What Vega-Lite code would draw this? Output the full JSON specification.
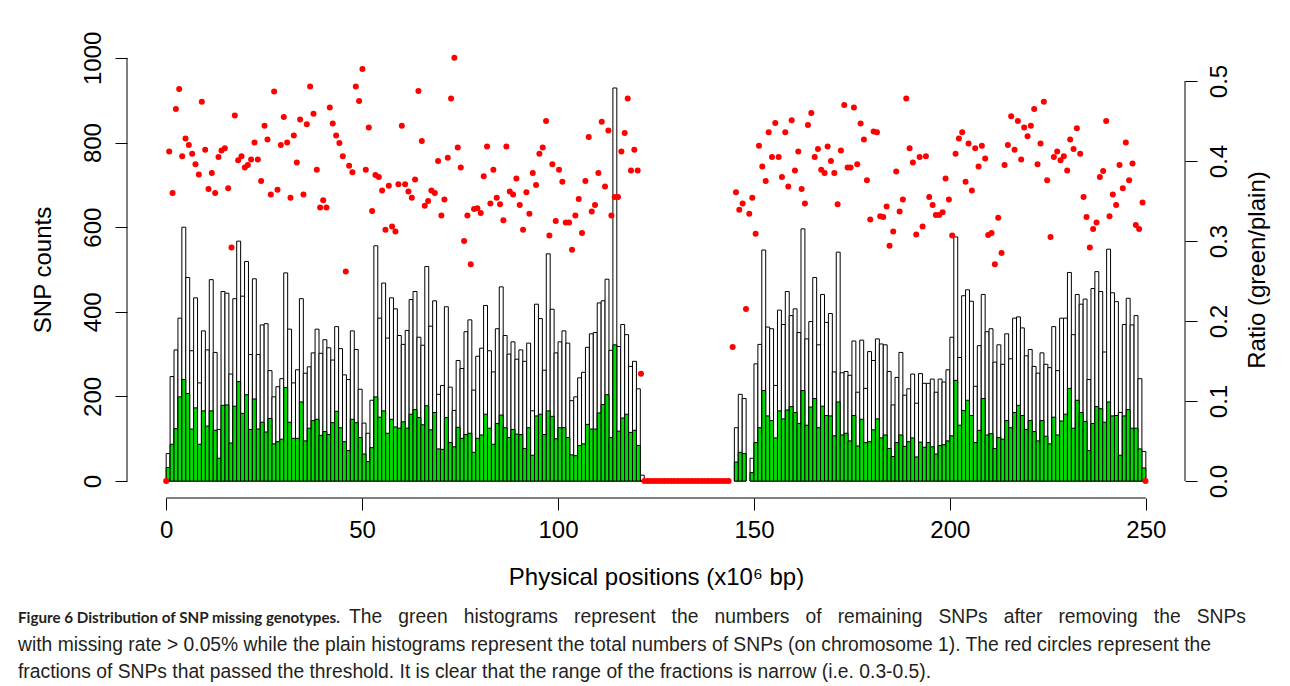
{
"$schema":"https://vega.github.io/schema/vega-lite/v6.json",
"autosize":{"type":"pad"},
"padding":{"left":18,"top":31,"right":5,"bottom":5},
"background":"white",
"bounds":"flush",
"spacing":100,
"config":{"view":{"stroke":null},
 "axis":{"grid":false,"domain":false,"tickColor":"black","tickWidth":1,"tickSize":12,"labelColor":"black","titleColor":"black","labelFont":"Liberation Sans","titleFont":"Liberation Sans","labelFontSize":24,"titleFontSize":24,"titleFontWeight":"normal","labelOverlap":false,"labelFlush":false}},
"title":{"text":["with missing rate > 0.05% while the plain histograms represent the total numbers of SNPs (on chromosome 1). The red circles represent the",
  "fractions of SNPs that passed the threshold. It is clear that the range of the fractions is narrow (i.e. 0.3-0.5)."],
 "orient":"bottom","anchor":"start","frame":"group","dx":-109,"offset":24,"baseline":"alphabetic","lineHeight":26.5,
 "font":"Liberation Sans","fontSize":19.3,"fontWeight":"normal","color":"#231f20"},
"datasets":{
"bars":[
{"start":0,"end":1,"total":65,"green":32},{"start":1,"end":2,"total":247,"green":87},{"start":2,"end":3,"total":310,"green":124},{"start":3,"end":4,"total":385,"green":199},{"start":4,"end":5,"total":600,"green":240},{"start":5,"end":6,"total":481,"green":207},{"start":6,"end":7,"total":308,"green":123},{"start":7,"end":8,"total":433,"green":173},{"start":8,"end":9,"total":232,"green":87},{"start":9,"end":10,"total":355,"green":166},
{"start":10,"end":11,"total":310,"green":130},{"start":11,"end":12,"total":476,"green":166},{"start":12,"end":13,"total":304,"green":120},{"start":13,"end":14,"total":122,"green":54},{"start":14,"end":15,"total":448,"green":179},{"start":15,"end":16,"total":444,"green":180},{"start":16,"end":17,"total":253,"green":90},{"start":17,"end":18,"total":431,"green":177},{"start":18,"end":19,"total":567,"green":235},{"start":19,"end":20,"total":437,"green":160},
{"start":20,"end":21,"total":519,"green":204},{"start":21,"end":22,"total":299,"green":122},{"start":22,"end":23,"total":478,"green":194},{"start":23,"end":24,"total":299,"green":123},{"start":24,"end":25,"total":369,"green":139},{"start":25,"end":26,"total":372,"green":116},{"start":26,"end":27,"total":261,"green":148},{"start":27,"end":28,"total":199,"green":88},{"start":28,"end":29,"total":223,"green":93},{"start":29,"end":30,"total":242,"green":99},
{"start":30,"end":31,"total":492,"green":221},{"start":31,"end":32,"total":359,"green":139},{"start":32,"end":33,"total":232,"green":101},{"start":33,"end":34,"total":263,"green":101},{"start":34,"end":35,"total":431,"green":187},{"start":35,"end":36,"total":255,"green":95},{"start":36,"end":37,"total":270,"green":125},{"start":37,"end":38,"total":303,"green":143},{"start":38,"end":39,"total":359,"green":146},{"start":39,"end":40,"total":302,"green":108},
{"start":40,"end":41,"total":334,"green":117},{"start":41,"end":42,"total":315,"green":110},{"start":42,"end":43,"total":286,"green":138},{"start":43,"end":44,"total":365,"green":165},{"start":44,"end":45,"total":313,"green":126},{"start":45,"end":46,"total":251,"green":93},{"start":46,"end":47,"total":240,"green":72},{"start":47,"end":48,"total":355,"green":146},{"start":48,"end":49,"total":311,"green":138},{"start":49,"end":50,"total":217,"green":103},
{"start":50,"end":51,"total":137,"green":64},{"start":51,"end":52,"total":113,"green":46},{"start":52,"end":53,"total":191,"green":79},{"start":53,"end":54,"total":556,"green":199},{"start":54,"end":55,"total":385,"green":151},{"start":55,"end":56,"total":468,"green":166},{"start":56,"end":57,"total":338,"green":113},{"start":57,"end":58,"total":433,"green":146},{"start":58,"end":59,"total":407,"green":128},{"start":59,"end":60,"total":344,"green":125},
{"start":60,"end":61,"total":323,"green":140},{"start":61,"end":62,"total":356,"green":125},{"start":62,"end":63,"total":429,"green":158},{"start":63,"end":64,"total":448,"green":169},{"start":64,"end":65,"total":340,"green":150},{"start":65,"end":66,"total":321,"green":133},{"start":66,"end":67,"total":507,"green":178},{"start":67,"end":68,"total":366,"green":121},{"start":68,"end":69,"total":426,"green":162},{"start":69,"end":70,"total":205,"green":76},
{"start":70,"end":71,"total":226,"green":75},{"start":71,"end":72,"total":412,"green":150},{"start":72,"end":73,"total":222,"green":91},{"start":73,"end":74,"total":167,"green":81},{"start":74,"end":75,"total":285,"green":127},{"start":75,"end":76,"total":266,"green":101},{"start":76,"end":77,"total":353,"green":110},{"start":77,"end":78,"total":381,"green":113},{"start":78,"end":79,"total":215,"green":68},{"start":79,"end":80,"total":295,"green":101},
{"start":80,"end":81,"total":314,"green":109},{"start":81,"end":82,"total":415,"green":158},{"start":82,"end":83,"total":308,"green":125},{"start":83,"end":84,"total":258,"green":87},{"start":84,"end":85,"total":360,"green":136},{"start":85,"end":86,"total":459,"green":156},{"start":86,"end":87,"total":344,"green":126},{"start":87,"end":88,"total":300,"green":103},{"start":88,"end":89,"total":329,"green":122},{"start":89,"end":90,"total":288,"green":111},
{"start":90,"end":91,"total":310,"green":110},{"start":91,"end":92,"total":283,"green":77},{"start":92,"end":93,"total":326,"green":126},{"start":93,"end":94,"total":166,"green":61},{"start":94,"end":95,"total":418,"green":154},{"start":95,"end":96,"total":384,"green":158},{"start":96,"end":97,"total":262,"green":110},{"start":97,"end":98,"total":537,"green":166},{"start":98,"end":99,"total":406,"green":153},{"start":99,"end":100,"total":303,"green":100},
{"start":100,"end":101,"total":329,"green":126},{"start":101,"end":102,"total":355,"green":126},{"start":102,"end":103,"total":326,"green":103},{"start":103,"end":104,"total":190,"green":62},{"start":104,"end":105,"total":199,"green":60},{"start":105,"end":106,"total":244,"green":84},{"start":106,"end":107,"total":257,"green":88},{"start":107,"end":108,"total":316,"green":134},{"start":108,"end":109,"total":348,"green":123},{"start":109,"end":110,"total":351,"green":123},
{"start":110,"end":111,"total":421,"green":161},{"start":111,"end":112,"total":426,"green":181},{"start":112,"end":113,"total":477,"green":204},{"start":113,"end":114,"total":309,"green":103},{"start":114,"end":115,"total":929,"green":322},{"start":115,"end":116,"total":318,"green":118},{"start":116,"end":117,"total":370,"green":149},{"start":117,"end":118,"total":346,"green":158},{"start":118,"end":119,"total":271,"green":115},{"start":119,"end":120,"total":283,"green":120},
{"start":120,"end":121,"total":218,"green":84},{"start":121,"end":122,"total":14,"green":0},
{"start":145,"end":146,"total":126,"green":45},{"start":146,"end":147,"total":205,"green":68},{"start":147,"end":148,"total":195,"green":65},{"start":149,"end":150,"total":54,"green":20},
{"start":150,"end":151,"total":277,"green":91},{"start":151,"end":152,"total":323,"green":126},{"start":152,"end":153,"total":546,"green":214},{"start":153,"end":154,"total":364,"green":154},{"start":154,"end":155,"total":360,"green":143},{"start":155,"end":156,"total":226,"green":102},{"start":156,"end":157,"total":404,"green":166},{"start":157,"end":158,"total":370,"green":147},{"start":158,"end":159,"total":448,"green":168},{"start":159,"end":160,"total":391,"green":176},
{"start":160,"end":161,"total":407,"green":162},{"start":161,"end":162,"total":351,"green":136},{"start":162,"end":163,"total":596,"green":214},{"start":163,"end":164,"total":336,"green":132},{"start":164,"end":165,"total":377,"green":175},{"start":165,"end":166,"total":481,"green":195},{"start":166,"end":167,"total":322,"green":126},{"start":167,"end":168,"total":441,"green":177},{"start":168,"end":169,"total":375,"green":155},{"start":169,"end":170,"total":396,"green":154},
{"start":170,"end":171,"total":258,"green":107},{"start":171,"end":172,"total":541,"green":187},{"start":172,"end":173,"total":256,"green":109},{"start":173,"end":174,"total":259,"green":113},{"start":174,"end":175,"total":250,"green":95},{"start":175,"end":176,"total":331,"green":155},{"start":176,"end":177,"total":210,"green":83},{"start":177,"end":178,"total":333,"green":146},{"start":178,"end":179,"total":219,"green":91},{"start":179,"end":180,"total":306,"green":93},
{"start":180,"end":181,"total":285,"green":121},{"start":181,"end":182,"total":336,"green":147},{"start":182,"end":183,"total":324,"green":102},{"start":183,"end":184,"total":322,"green":109},{"start":184,"end":185,"total":259,"green":77},{"start":185,"end":186,"total":180,"green":58},{"start":186,"end":187,"total":245,"green":91},{"start":187,"end":188,"total":304,"green":109},{"start":188,"end":189,"total":203,"green":82},{"start":189,"end":190,"total":218,"green":93},
{"start":190,"end":191,"total":253,"green":102},{"start":191,"end":192,"total":184,"green":57},{"start":192,"end":193,"total":254,"green":92},{"start":193,"end":194,"total":231,"green":80},{"start":194,"end":195,"total":231,"green":91},{"start":195,"end":196,"total":241,"green":81},{"start":196,"end":197,"total":210,"green":64},{"start":197,"end":198,"total":241,"green":84},{"start":198,"end":199,"total":234,"green":86},{"start":199,"end":200,"total":263,"green":95},
{"start":200,"end":201,"total":340,"green":107},{"start":201,"end":202,"total":577,"green":238},{"start":202,"end":203,"total":292,"green":132},{"start":203,"end":204,"total":438,"green":167},{"start":204,"end":205,"total":452,"green":191},{"start":205,"end":206,"total":425,"green":155},{"start":206,"end":207,"total":224,"green":91},{"start":207,"end":208,"total":320,"green":120},{"start":208,"end":209,"total":441,"green":195},{"start":209,"end":210,"total":353,"green":109},
{"start":210,"end":211,"total":360,"green":112},{"start":211,"end":212,"total":281,"green":77},{"start":212,"end":213,"total":322,"green":103},{"start":213,"end":214,"total":276,"green":99},{"start":214,"end":215,"total":348,"green":143},{"start":215,"end":216,"total":289,"green":126},{"start":216,"end":217,"total":385,"green":162},{"start":217,"end":218,"total":388,"green":179},{"start":218,"end":219,"total":362,"green":155},{"start":219,"end":220,"total":296,"green":122},
{"start":220,"end":221,"total":311,"green":143},{"start":221,"end":222,"total":271,"green":117},{"start":222,"end":223,"total":255,"green":95},{"start":223,"end":224,"total":303,"green":143},{"start":224,"end":225,"total":276,"green":106},{"start":225,"end":226,"total":268,"green":88},{"start":226,"end":227,"total":365,"green":151},{"start":227,"end":228,"total":261,"green":109},{"start":228,"end":229,"total":385,"green":142},{"start":229,"end":230,"total":385,"green":158},
{"start":230,"end":231,"total":493,"green":219},{"start":231,"end":232,"total":346,"green":125},{"start":232,"end":233,"total":441,"green":191},{"start":233,"end":234,"total":418,"green":162},{"start":234,"end":235,"total":430,"green":141},{"start":235,"end":236,"total":240,"green":72},{"start":236,"end":237,"total":455,"green":136},{"start":237,"end":238,"total":495,"green":176},{"start":238,"end":239,"total":448,"green":171},{"start":239,"end":240,"total":305,"green":139},
{"start":240,"end":241,"total":548,"green":187},{"start":241,"end":242,"total":445,"green":154},{"start":242,"end":243,"total":424,"green":155},{"start":243,"end":244,"total":162,"green":61},{"start":244,"end":245,"total":370,"green":154},{"start":245,"end":246,"total":432,"green":169},{"start":246,"end":247,"total":369,"green":125},{"start":247,"end":248,"total":391,"green":125},{"start":248,"end":249,"total":242,"green":76},{"start":249,"end":250,"total":70,"green":31}
],
"pts":[
{"pos":0,"ratio":0},{"pos":0.77,"ratio":0.412},{"pos":1.62,"ratio":0.36},{"pos":2.47,"ratio":0.465},{"pos":3.32,"ratio":0.49},{"pos":4.08,"ratio":0.406},{"pos":4.93,"ratio":0.428},{"pos":5.78,"ratio":0.42},{"pos":6.63,"ratio":0.409},{"pos":7.48,"ratio":0.396},{"pos":8.33,"ratio":0.383},{"pos":9.1,"ratio":0.474},{"pos":9.95,"ratio":0.414},{"pos":10.8,"ratio":0.365},{"pos":11.65,"ratio":0.385},{"pos":12.5,"ratio":0.36},{"pos":13.35,"ratio":0.405},{"pos":14.12,"ratio":0.413},{"pos":14.97,"ratio":0.416},{"pos":15.82,"ratio":0.366},{"pos":16.67,"ratio":0.292},{"pos":17.52,"ratio":0.457},{"pos":18.37,"ratio":0.401},{"pos":19.22,"ratio":0.406},{"pos":20.07,"ratio":0.392},{"pos":20.84,"ratio":0.395},{"pos":21.68,"ratio":0.402},{"pos":22.54,"ratio":0.423},{"pos":23.39,"ratio":0.402},{"pos":24.23,"ratio":0.375},{"pos":25.09,"ratio":0.444},{"pos":25.85,"ratio":0.427},{"pos":26.7,"ratio":0.358},{"pos":27.55,"ratio":0.487},{"pos":28.4,"ratio":0.364},{"pos":29.25,"ratio":0.42},{"pos":30.02,"ratio":0.455},{"pos":30.87,"ratio":0.423},{"pos":31.72,"ratio":0.354},{"pos":32.57,"ratio":0.432},{"pos":33.33,"ratio":0.398},{"pos":34.18,"ratio":0.452},{"pos":35.03,"ratio":0.358},{"pos":35.88,"ratio":0.446},{"pos":36.73,"ratio":0.493},{"pos":37.59,"ratio":0.459},{"pos":38.44,"ratio":0.389},{"pos":39.29,"ratio":0.342},{"pos":40.06,"ratio":0.351},{"pos":40.9,"ratio":0.342},{"pos":41.75,"ratio":0.467},
{"pos":42.5,"ratio":0.447},{"pos":43.37,"ratio":0.432},{"pos":44.2,"ratio":0.4225},{"pos":45.07,"ratio":0.406},{"pos":45.83,"ratio":0.262},{"pos":46.68,"ratio":0.394},{"pos":47.53,"ratio":0.386},{"pos":48.39,"ratio":0.493},{"pos":49.23,"ratio":0.475},{"pos":50.08,"ratio":0.515},{"pos":50.94,"ratio":0.389},{"pos":51.71,"ratio":0.442},{"pos":52.55,"ratio":0.3375},{"pos":53.4,"ratio":0.3825},{"pos":54.26,"ratio":0.38},{"pos":55.1,"ratio":0.363},{"pos":55.95,"ratio":0.314},{"pos":56.81,"ratio":0.369},{"pos":57.65,"ratio":0.318},{"pos":58.5,"ratio":0.312},{"pos":59.26,"ratio":0.371},{"pos":60.13,"ratio":0.444},{"pos":60.97,"ratio":0.371},{"pos":61.82,"ratio":0.362},{"pos":62.68,"ratio":0.354},{"pos":63.52,"ratio":0.377},{"pos":64.37,"ratio":0.4875},{"pos":65.23,"ratio":0.425},{"pos":65.99,"ratio":0.344},{"pos":66.84,"ratio":0.35},{"pos":67.68,"ratio":0.363},{"pos":68.55,"ratio":0.36},{"pos":69.39,"ratio":0.4},{"pos":70.23,"ratio":0.332},{"pos":71.0,"ratio":0.352},{"pos":71.86,"ratio":0.404},{"pos":72.7,"ratio":0.478},{"pos":73.55,"ratio":0.529},{"pos":74.41,"ratio":0.417},{"pos":75.17,"ratio":0.392},{"pos":76.02,"ratio":0.3},{"pos":76.87,"ratio":0.332},{"pos":77.73,"ratio":0.271},{"pos":78.57,"ratio":0.34},{"pos":79.42,"ratio":0.341},{"pos":80.28,"ratio":0.335},{"pos":81.04,"ratio":0.381},{"pos":81.89,"ratio":0.418},{"pos":82.73,"ratio":0.347},{"pos":83.5,"ratio":0.389},
{"pos":84.35,"ratio":0.354},{"pos":85.2,"ratio":0.346},{"pos":86.05,"ratio":0.326},{"pos":86.82,"ratio":0.418},{"pos":87.68,"ratio":0.362},{"pos":88.52,"ratio":0.358},{"pos":89.37,"ratio":0.378},{"pos":90.23,"ratio":0.345},{"pos":91.07,"ratio":0.314},{"pos":91.92,"ratio":0.361},{"pos":92.69,"ratio":0.334},{"pos":93.55,"ratio":0.385},{"pos":94.39,"ratio":0.37},{"pos":95.24,"ratio":0.409},{"pos":96.1,"ratio":0.417},{"pos":96.94,"ratio":0.45},{"pos":97.79,"ratio":0.307},{"pos":98.55,"ratio":0.396},{"pos":99.41,"ratio":0.325},{"pos":100.26,"ratio":0.389},{"pos":101.1,"ratio":0.374},{"pos":101.97,"ratio":0.323},{"pos":102.81,"ratio":0.323},{"pos":103.57,"ratio":0.289},{"pos":104.42,"ratio":0.332},{"pos":105.28,"ratio":0.3525},{"pos":106.12,"ratio":0.31},{"pos":106.97,"ratio":0.375},{"pos":107.83,"ratio":0.43},{"pos":108.6,"ratio":0.337},{"pos":109.44,"ratio":0.345},{"pos":110.29,"ratio":0.385},{"pos":111.15,"ratio":0.449},{"pos":111.99,"ratio":0.368},{"pos":112.84,"ratio":0.438},{"pos":113.61,"ratio":0.332},{"pos":114.46,"ratio":0.355},{"pos":115.31,"ratio":0.355},{"pos":116.16,"ratio":0.412},{"pos":117.01,"ratio":0.435},{"pos":117.78,"ratio":0.478},{"pos":118.62,"ratio":0.388},{"pos":119.47,"ratio":0.414},{"pos":120.33,"ratio":0.388},{"pos":121.17,"ratio":0.134},
{"pos":122.03,"ratio":0},{"pos":122.89,"ratio":0},{"pos":123.75,"ratio":0},{"pos":124.61,"ratio":0},{"pos":125.47,"ratio":0},{"pos":126.33,"ratio":0},{"pos":127.19,"ratio":0},{"pos":128.05,"ratio":0},{"pos":128.91,"ratio":0},{"pos":129.77,"ratio":0},{"pos":130.63,"ratio":0},{"pos":131.49,"ratio":0},{"pos":132.35,"ratio":0},{"pos":133.21,"ratio":0},{"pos":134.07,"ratio":0},{"pos":134.93,"ratio":0},{"pos":135.79,"ratio":0},{"pos":136.65,"ratio":0},{"pos":137.51,"ratio":0},{"pos":138.37,"ratio":0},{"pos":139.23,"ratio":0},{"pos":140.09,"ratio":0},{"pos":140.95,"ratio":0},{"pos":141.81,"ratio":0},{"pos":142.67,"ratio":0},{"pos":143.53,"ratio":0},
{"pos":144.56,"ratio":0.1675},{"pos":145.41,"ratio":0.361},{"pos":146.26,"ratio":0.339},{"pos":147.11,"ratio":0.347},{"pos":147.96,"ratio":0.215},{"pos":148.8,"ratio":0.334},{"pos":149.57,"ratio":0.354},{"pos":150.43,"ratio":0.309},{"pos":151.28,"ratio":0.419},{"pos":152.12,"ratio":0.393},{"pos":152.99,"ratio":0.375},{"pos":153.75,"ratio":0.436},{"pos":154.59,"ratio":0.405},{"pos":155.44,"ratio":0.4475},{"pos":156.3,"ratio":0.405},{"pos":157.14,"ratio":0.38},{"pos":157.99,"ratio":0.436},{"pos":158.76,"ratio":0.368},{"pos":159.62,"ratio":0.451},{"pos":160.46,"ratio":0.388},{"pos":161.31,"ratio":0.412},{"pos":162.17,"ratio":0.365},{"pos":163.01,"ratio":0.347},{"pos":163.78,"ratio":0.445},{"pos":164.63,"ratio":0.46},{"pos":165.49,"ratio":0.405},{"pos":166.33,"ratio":0.415},{"pos":167.17,"ratio":0.389},{"pos":168.04,"ratio":0.385},{"pos":168.8,"ratio":0.418},{"pos":169.64,"ratio":0.4},{"pos":170.5,"ratio":0.385},{"pos":171.35,"ratio":0.346},{"pos":172.19,"ratio":0.413},{"pos":173.04,"ratio":0.47},{"pos":173.9,"ratio":0.392},{"pos":174.66,"ratio":0.392},{"pos":175.51,"ratio":0.467},{"pos":176.35,"ratio":0.396},{"pos":177.22,"ratio":0.447},{"pos":178.06,"ratio":0.427},{"pos":178.83,"ratio":0.376},{"pos":179.67,"ratio":0.327},{"pos":180.53,"ratio":0.437},{"pos":181.38,"ratio":0.436},{"pos":182.22,"ratio":0.331},{"pos":182.99,"ratio":0.33},{"pos":183.85,"ratio":0.343},{"pos":184.6,"ratio":0.294},
{"pos":185.54,"ratio":0.312},{"pos":186.3,"ratio":0.387},{"pos":187.17,"ratio":0.337},{"pos":188.01,"ratio":0.352},{"pos":188.86,"ratio":0.478},{"pos":189.72,"ratio":0.416},{"pos":190.56,"ratio":0.398},{"pos":191.41,"ratio":0.308},{"pos":192.27,"ratio":0.405},{"pos":193.03,"ratio":0.318},{"pos":193.88,"ratio":0.406},{"pos":194.73,"ratio":0.355},{"pos":195.59,"ratio":0.345},{"pos":196.43,"ratio":0.3325},{"pos":197.28,"ratio":0.3325},{"pos":198.14,"ratio":0.336},{"pos":198.9,"ratio":0.378},{"pos":199.74,"ratio":0.352},{"pos":200.59,"ratio":0.307},{"pos":201.45,"ratio":0.409},{"pos":202.3,"ratio":0.428},{"pos":203.14,"ratio":0.436},{"pos":204.0,"ratio":0.374},{"pos":204.77,"ratio":0.422},{"pos":205.61,"ratio":0.363},{"pos":206.46,"ratio":0.416},{"pos":207.32,"ratio":0.393},{"pos":208.16,"ratio":0.419},{"pos":209.01,"ratio":0.403},{"pos":209.77,"ratio":0.3075},{"pos":210.64,"ratio":0.31},{"pos":211.48,"ratio":0.271},{"pos":212.33,"ratio":0.329},{"pos":213.19,"ratio":0.285},{"pos":213.95,"ratio":0.395},{"pos":214.8,"ratio":0.42},{"pos":215.64,"ratio":0.456},{"pos":216.51,"ratio":0.414},{"pos":217.35,"ratio":0.45},{"pos":218.19,"ratio":0.402},{"pos":218.96,"ratio":0.442},{"pos":219.82,"ratio":0.431},{"pos":220.66,"ratio":0.444},{"pos":221.51,"ratio":0.465},{"pos":222.37,"ratio":0.396},{"pos":223.13,"ratio":0.422},{"pos":223.98,"ratio":0.474},{"pos":224.82,"ratio":0.376},{"pos":225.68,"ratio":0.305},{"pos":226.53,"ratio":0.405},
{"pos":227.38,"ratio":0.412},{"pos":228.24,"ratio":0.401},{"pos":229.08,"ratio":0.406},{"pos":229.93,"ratio":0.388},{"pos":230.7,"ratio":0.427},{"pos":231.56,"ratio":0.415},{"pos":232.4,"ratio":0.441},{"pos":233.25,"ratio":0.409},{"pos":234.11,"ratio":0.355},{"pos":234.87,"ratio":0.33},{"pos":235.71,"ratio":0.292},{"pos":236.56,"ratio":0.315},{"pos":237.42,"ratio":0.323},{"pos":238.27,"ratio":0.38},{"pos":239.11,"ratio":0.3875},{"pos":239.88,"ratio":0.45},{"pos":240.74,"ratio":0.331},{"pos":241.58,"ratio":0.358},{"pos":242.43,"ratio":0.345},{"pos":243.29,"ratio":0.395},{"pos":244.13,"ratio":0.366},{"pos":244.9,"ratio":0.423},{"pos":245.74,"ratio":0.376},{"pos":246.6,"ratio":0.397},{"pos":247.45,"ratio":0.32},{"pos":248.29,"ratio":0.315},{"pos":249.16,"ratio":0.348},{"pos":249.92,"ratio":0}
]},
"vconcat":[
{"width":1058,"height":457,
 "layer":[
 {"layer":[
  {"data":{"name":"bars"},"mark":{"type":"rect","fill":"white","stroke":"black","strokeWidth":1},
   "encoding":{
    "x":{"field":"start","type":"quantitative","scale":{"domain":[-10,260],"nice":false,"zero":false},
      "axis":{"values":[0,50,100,150,200,250],"title":"Physical positions (x10\u2076 bp)","labelPadding":8,"titlePadding":23}},
    "x2":{"field":"end"},
    "y":{"field":"total","type":"quantitative","scale":{"domain":[-40,1040],"nice":false,"zero":false},
      "axis":{"values":[0,200,400,600,800,1000],"format":"d","title":"SNP counts","labelAngle":-90,"labelAlign":"center","labelBaseline":"bottom","labelPadding":10,"titlePadding":26}},
    "y2":{"datum":0}}},
  {"data":{"name":"bars"},"mark":{"type":"rect","fill":"#00DD00","stroke":"black","strokeWidth":1},
   "encoding":{
    "x":{"field":"start","type":"quantitative"},
    "x2":{"field":"end"},
    "y":{"field":"green","type":"quantitative"},
    "y2":{"datum":0}}},
  {"data":{"values":[{}]},"mark":{"type":"rule","color":"black","strokeWidth":1},
   "encoding":{"x":{"datum":0,"type":"quantitative"},"x2":{"datum":250},"y":{"datum":-40,"type":"quantitative"}}},
  {"data":{"values":[{}]},"mark":{"type":"rule","color":"black","strokeWidth":1},
   "encoding":{"x":{"datum":-10,"type":"quantitative"},"y":{"datum":0,"type":"quantitative"},"y2":{"datum":1000}}}
 ]},
 {"layer":[
  {"data":{"name":"pts"},"mark":{"type":"point","filled":true,"color":"#FF0000","opacity":1,"size":36},
   "encoding":{
    "x":{"field":"pos","type":"quantitative"},
    "y":{"field":"ratio","type":"quantitative","scale":{"domain":[-0.02125,0.55],"nice":false,"zero":false},
      "axis":{"orient":"right","values":[0,0.1,0.2,0.3,0.4,0.5],"format":".1f","title":"Ratio (green/plain)","labelAngle":-90,"labelAlign":"center","labelBaseline":"top","labelPadding":10,"titleAngle":-90,"titleBaseline":"top","titlePadding":14}}}},
  {"data":{"values":[{}]},"mark":{"type":"rule","color":"black","strokeWidth":1},
   "encoding":{"x":{"datum":260,"type":"quantitative"},"y":{"datum":0,"type":"quantitative"},"y2":{"datum":0.5}}}
 ]}
 ],
 "resolve":{"scale":{"y":"independent"},"axis":{"y":"independent"}}
},
{"bounds":"flush","spacing":0,
 "hconcat":[
  {"width":331,"height":1,"data":{"values":[]},"mark":{"type":"point"},
   "title":{"text":"Figure 6 Distribution of SNP missing genotypes.","orient":"bottom","anchor":"start","frame":"group","dx":-109,"offset":24,"baseline":"alphabetic",
    "font":"Lato","fontSize":15.2,"fontWeight":"bold","color":"#231f20"}},
  {"width":910,"height":1,"data":{"values":[]},"mark":{"type":"point"},
   "title":{"text":"The \u00a0\u00a0green \u00a0\u00a0histograms \u00a0\u00a0represent \u00a0\u00a0the \u00a0\u00a0numbers \u00a0\u00a0of \u00a0\u00a0remaining \u00a0\u00a0SNPs \u00a0\u00a0after \u00a0\u00a0removing \u00a0\u00a0the \u00a0\u00a0SNPs","orient":"bottom","anchor":"start","frame":"group","dx":-109,"offset":24,"baseline":"alphabetic",
    "font":"Liberation Sans","fontSize":19.3,"fontWeight":"normal","color":"#231f20"}}
 ]}
]
}
